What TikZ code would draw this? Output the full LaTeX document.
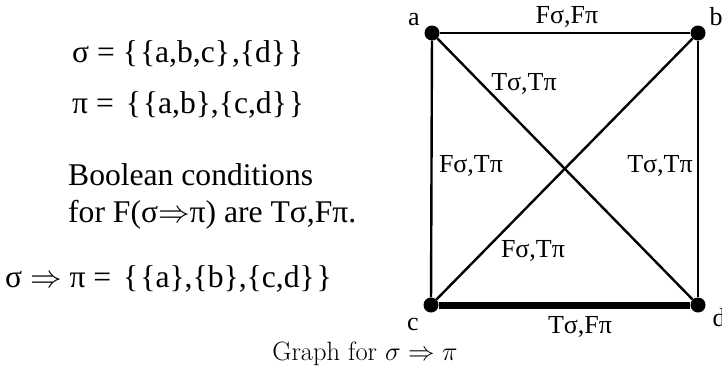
\RequirePackage{fix-cm}
\documentclass[tikz,border=0pt]{standalone}
\usepackage{fontspec}
\newfontfamily\tfont{Liberation Serif}
\begin{document}
\begin{tikzpicture}[x=1pt,y=-1pt,
  vtx/.style={circle,fill=black,inner sep=0pt,minimum size=15pt},
  edg/.style={line width=2.4pt},
  thk/.style={line width=7pt},
  lbl/.style={anchor=base,inner sep=0pt,font=\tfont\fontsize{26}{30}\selectfont},
  txt/.style={anchor=base west,inner sep=0pt,font=\tfont\fontsize{31.6}{36}\selectfont}]
\useasboundingbox (0,0) rectangle (722,384);
% left text
\node[txt] (l1) at (72,62) {σ = \{\kern2pt\{a,b,c\}\kern2pt,\{d\}\kern2pt\}};
\node[txt] (l2) at (72,113) {π = \kern4pt\{\kern2pt\{a,b\},\{c,d\}\kern2pt\}};
\node[txt] (l3) at (68,185) {Boolean conditions};
\node[txt] (l4) at (68,222) {for F(σ$\Rightarrow$π) are Tσ,Fπ.};
\node[txt] (l5) at (5,287) {σ $\Rightarrow$ π = \kern4pt\{\kern2pt\{a\},\{b\},\{c,d\}\kern2pt\}};
% graph
\node[vtx] (a) at (432,33) {};
\node[vtx] (b) at (698,33) {};
\node[vtx] (c) at (431,305) {};
\node[vtx] (d) at (698,305) {};
\draw[edg] (a) -- (b);
\draw[edg] (a) -- (c);
\draw[edg] (b) -- (d);
\draw[edg] (a) -- (d);
\draw[edg] (b) -- (c);
\draw[thk] (c) -- (d);
\node[lbl] (la) at (414,25) {a};
\node[lbl] (lb) at (716,25) {b};
\node[lbl] (lc) at (413,330) {c};
\node[lbl] (ld) at (719,326) {d};
\node[lbl] (e1) at (567,23) {Fσ,Fπ};
\node[lbl] (e2) at (524,90) {Tσ,Tπ};
\node[lbl] (e3) at (471,172) {Fσ,Tπ};
\node[lbl] (e4) at (660,172) {Tσ,Tπ};
\node[lbl] (e5) at (533,257) {Fσ,Tπ};
\node[lbl] (e6) at (580,333) {Tσ,Fπ};
% caption
\node[anchor=base,inner sep=0pt,font=\fontsize{26.5}{30}\selectfont] (cap) at (365,360) {Graph for $\sigma\Rightarrow\pi$};
\end{tikzpicture}
\end{document}
